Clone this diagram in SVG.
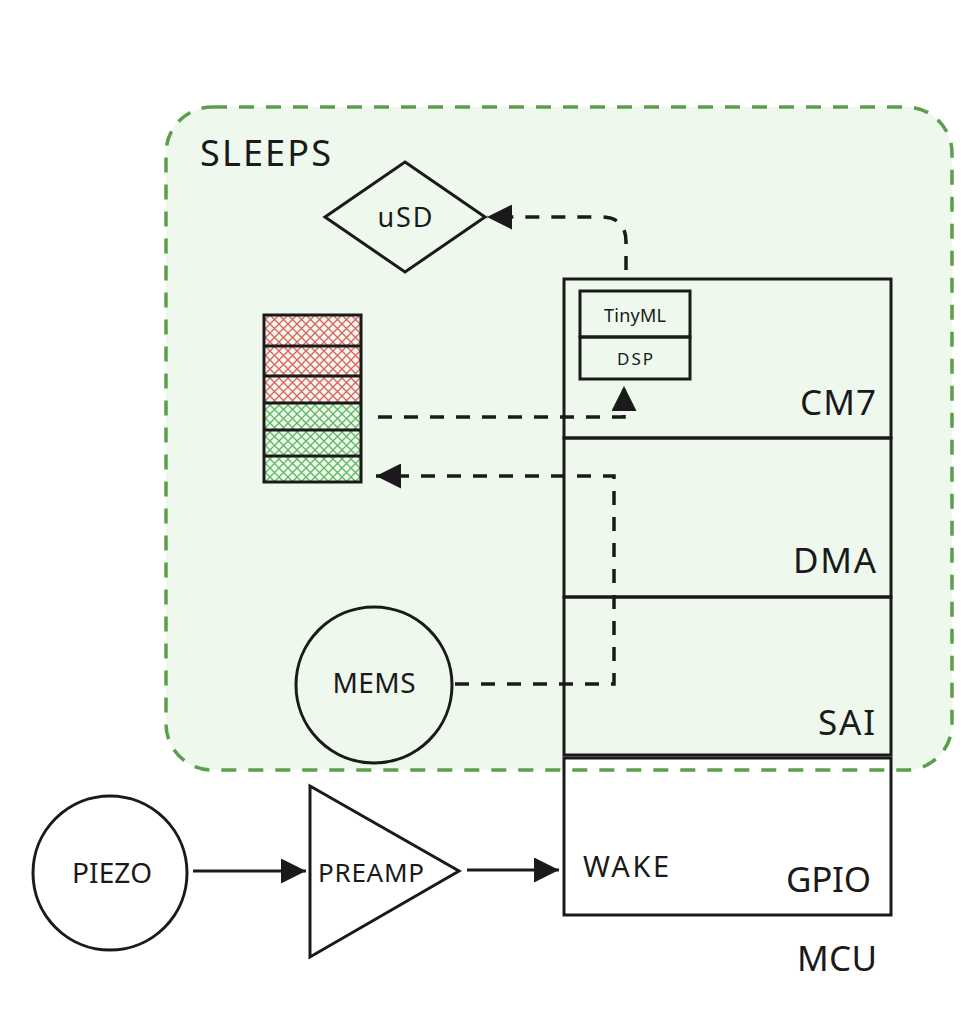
<svg xmlns="http://www.w3.org/2000/svg" width="978" height="1029" viewBox="0 0 978 1029">
<style>
text{font-family:"Noto Sans","Open Sans",sans-serif;fill:#1a1a1a}
.node{fill:none;stroke:#1a1a1a;stroke-width:3}
.wfill{fill:#ffffff}
.dash{fill:none;stroke:#1a1a1a;stroke-width:3.5;stroke-dasharray:14 12}
.solid{fill:none;stroke:#1a1a1a;stroke-width:3}
.lbl{font-size:35px}
</style>
<defs>
<marker id="arr" viewBox="0 0 10 10" refX="10" refY="5" markerWidth="28" markerHeight="25" markerUnits="userSpaceOnUse" orient="auto">
<path d="M0,0 L10,5 L0,10 z" fill="#1a1a1a"/>
</marker>
<pattern id="hatchR" width="9" height="9" patternUnits="userSpaceOnUse">
<path d="M0,0 L9,9 M9,0 L0,9" stroke="#e06060" stroke-width="1.3"/>
</pattern>
<pattern id="hatchG" width="9" height="9" patternUnits="userSpaceOnUse">
<path d="M0,0 L9,9 M9,0 L0,9" stroke="#5fb85f" stroke-width="1.3"/>
</pattern>
</defs>
<rect width="978" height="1029" fill="#ffffff"/>
<g id="region-sleeps">
<rect x="166" y="107" width="786" height="663" rx="46" fill="#eef8ec"/>
<text x="200" y="166" font-size="36" textLength="131">SLEEPS</text>
</g>
<g id="usd">
<polygon class="node" points="405,162 485,217 405,272 325,217"/>
<text x="405" y="227" font-size="27" text-anchor="middle" textLength="55">uSD</text>
</g>
<g id="buffer">
<rect x="264" y="315" width="97" height="88" fill="url(#hatchR)"/>
<rect x="264" y="403" width="97" height="79" fill="url(#hatchG)"/>
<rect class="node" x="264" y="315" width="97" height="167"/>
<path class="node" d="M264,346 H361 M264,376 H361 M264,403 H361 M264,430 H361 M264,456 H361"/>
</g>
<g id="cm7">
<rect class="node" x="564" y="279" width="327" height="159"/>
<text class="lbl" x="876" y="415" text-anchor="end" textLength="76">CM7</text>
</g>
<g id="tinyml">
<rect class="node" x="580" y="291" width="110" height="46"/>
<text x="635" y="322" font-size="18" text-anchor="middle" textLength="62">TinyML</text>
</g>
<g id="dsp">
<rect class="node" x="580" y="337" width="110" height="42"/>
<text x="635" y="365" font-size="17" text-anchor="middle" textLength="36">DSP</text>
</g>
<g id="dma">
<rect class="node" x="564" y="438" width="327" height="159"/>
<text class="lbl" x="876" y="573" text-anchor="end" textLength="83">DMA</text>
</g>
<g id="sai">
<rect class="node" x="564" y="597" width="327" height="158"/>
<text class="lbl" x="875" y="735" text-anchor="end" textLength="57">SAI</text>
</g>
<g id="mems">
<circle class="node" cx="374" cy="685" r="78"/>
<text x="374" y="693" font-size="28" text-anchor="middle" textLength="83">MEMS</text>
</g>
<g id="gpio">
<rect class="node wfill" x="564" y="758" width="327" height="157"/>
<text class="lbl" x="871" y="892" text-anchor="end" textLength="85">GPIO</text>
<text x="583" y="877" font-size="29" textLength="86">WAKE</text>
</g>
<g id="mcu-label">
<text class="lbl" x="877" y="971" text-anchor="end" textLength="80">MCU</text>
</g>
<g id="piezo">
<circle class="node wfill" cx="110" cy="873" r="77"/>
<text x="112" y="883" font-size="28" text-anchor="middle" textLength="80">PIEZO</text>
</g>
<g id="preamp">
<polygon class="node wfill" points="310,786 459,871 310,957"/>
<text x="318" y="882" font-size="26" textLength="106">PREAMP</text>
</g>
<g id="region-border">
<rect x="166" y="107" width="786" height="663" rx="46" fill="none" stroke="#5c9e4c" stroke-width="3.5" stroke-dasharray="15 12"/>
</g>
<g id="connectors">
<path class="dash" d="M626,270 V242 Q626,217 601,217 H487" marker-end="url(#arr)"/>
<path class="dash" d="M378,417 H624 V386" marker-end="url(#arr)"/>
<path class="dash" d="M455,684 H614 V476 H376" marker-end="url(#arr)"/>
<path class="solid" d="M193,871 H306" marker-end="url(#arr)"/>
<path class="solid" d="M467,870 H559" marker-end="url(#arr)"/>
</g>
</svg>
